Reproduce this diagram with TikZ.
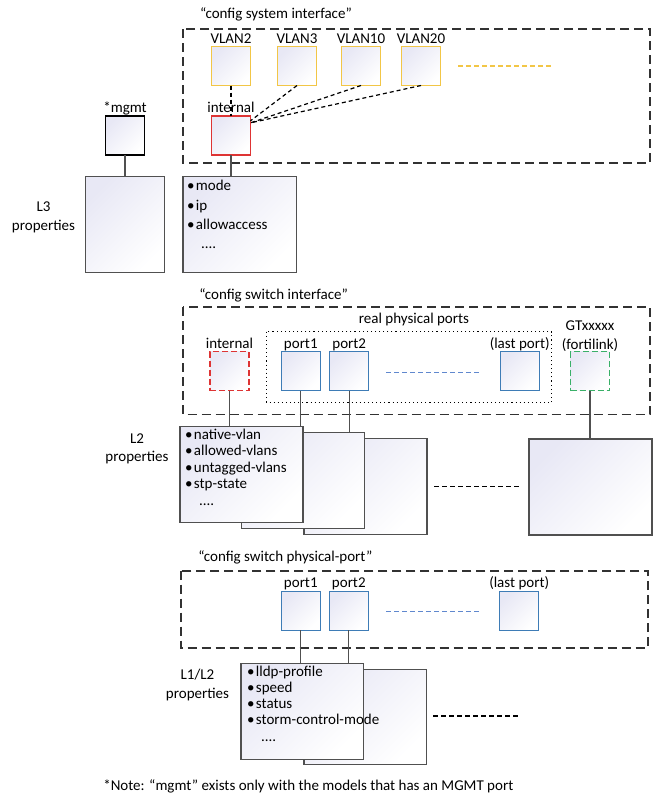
\documentclass[tikz,border=0pt]{standalone}
\usepackage{fontspec}
\setmainfont{Carlito}
\usetikzlibrary{positioning}

\definecolor{vlanyellow}{RGB}{242,198,70}
\definecolor{intred}{RGB}{222,52,52}
\definecolor{portblue}{RGB}{62,124,182}
\definecolor{dashblue}{RGB}{96,136,206}
\definecolor{gtgreen}{RGB}{58,176,104}
\definecolor{boxgray}{RGB}{80,80,80}
\definecolor{boxtint}{RGB}{232,232,245}
\definecolor{groupgray}{RGB}{50,50,50}
\newcommand{\blt}{\textbullet\hspace{1.5pt}}

\begin{document}
\begin{tikzpicture}[x=1pt, y=-1pt,
	every node/.style={font=\fontsize{15}{18}\selectfont, inner sep=0pt, outer sep=0pt},
	lbl/.style={text depth=0pt},
	lbltwo/.style={text depth=0pt, align=center, anchor=south, font=\fontsize{15}{18.5}\selectfont},
	plist/.style={text depth=0pt, align=left, anchor=south west},
	tint/.style={top color=boxtint, middle color=white, bottom color=white, shading angle=45},
	smallbox/.style={tint, line width=1.3pt, minimum width=39pt, minimum height=39pt},
	vlan/.style={smallbox, draw=vlanyellow},
	port/.style={smallbox, draw=portblue},
	intbox/.style={smallbox, draw=intred},
	propbox/.style={tint, draw=boxgray, line width=1.5pt, minimum width=123pt, minimum height=96pt},
	groupbox/.style={draw=groupgray, line width=1.8pt, dash pattern=on 9pt off 5pt},
	link/.style={draw=boxgray, line width=1.3pt},
	vlink/.style={draw=black, line width=1.2pt, dash pattern=on 4pt off 3pt},
	more/.style={line width=1.2pt, dash pattern=on 5pt off 3pt}]
	\useasboundingbox (0,0) rectangle (653,804);

	% config system interface
	\draw[groupbox] (183,29) rectangle (650,163);
	\node[lbl, anchor=south west] (sysiflbl) at (200,18.5) {“config system interface”};
	\node[vlan] (vlan2) at (231,66) {};
	\node[vlan] (vlan3) at (297,66) {};
	\node[vlan] (vlan10) at (361,66) {};
	\node[vlan] (vlan20) at (421,66) {};
	\node[lbl, above=3.5pt of vlan2] {VLAN2};
	\node[lbl, above=3.5pt of vlan3] {VLAN3};
	\node[lbl, above=3.5pt of vlan10] {VLAN10};
	\node[lbl, above=3.5pt of vlan20] {VLAN20};
	\coordinate (vmoreA) at (458,66);
	\coordinate (vmoreB) at (551,66);
	\draw[more, vlanyellow] (vmoreA) -- (vmoreB);
	\node[intbox] (sysint) at (231,135.5) {};
	\node[lbl, above=4pt of sysint] {internal};
	\draw[vlink] (vlan2) -- (sysint);
	\draw[vlink] (vlan3.south) -- (sysint.37);
	\draw[vlink] (vlan10.south) -- (sysint.33);
	\draw[vlink] (vlan20.south) -- (sysint.33);
	% mgmt and L3 properties
	\node[smallbox, draw=black] (mgmt) at (125,135.5) {};
	\node[lbl, above=4pt of mgmt] {*mgmt};
	\node[propbox, minimum width=79pt, minimum height=95.6pt] (l3mgmt) at (124.8,224.5) {};
	\node[propbox, minimum width=113.7pt, minimum height=95.6pt] (l3int) at (239.8,224.5) {};
	\draw[link] (mgmt.south) -- (mgmt.south |- l3mgmt.north);
	\draw[link] (sysint.south) -- (sysint.south |- l3int.north);
	\node[lbltwo] (l3lbl) at (43.5,230) {L3\\properties};
	\node[plist, font=\fontsize{15}{19.3}\selectfont] (l3list) at (187,248.7)
		{\blt mode\\\blt ip\\\blt allowaccess\\\hspace{14pt}....};

	% config switch interface
	\draw[groupbox] (182.7,307.3) rectangle (650,414.5);
	\node[lbl, anchor=south west] (swiflbl) at (199.3,299.3) {“config switch interface”};
	\draw[line width=1.1pt, dash pattern=on 1.1pt off 3pt] (266.7,331.7) rectangle (551.7,402.7);
	\node[lbl, anchor=south] (reallbl) at (414,323.3) {real physical ports};
	\node[smallbox, draw=intred, dash pattern=on 6pt off 3pt] (swint) at (229.5,371.2) {};
	\node[port] (swp1) at (300.8,371.2) {};
	\node[port] (swp2) at (349.2,371.2) {};
	\node[port] (swplast) at (519.7,371.2) {};
	\node[smallbox, draw=gtgreen, dash pattern=on 6pt off 3pt] (gt) at (590,371.2) {};
	\node[lbl, above=3.5pt of swint] {internal};
	\node[lbl, above=3.5pt of swp1] {port1};
	\node[lbl, above=3.5pt of swp2] {port2};
	\node[lbl, above=3.5pt of swplast] {(last port)};
	\node[lbl, align=center, above=2pt of gt, font=\fontsize{15}{19}\selectfont] {GTxxxxx\\(fortilink)};
	\coordinate (swmoreA) at (386,372.7);
	\coordinate (swmoreB) at (479.3,372.7);
	\draw[more, dashblue] (swmoreA) -- (swmoreB);
	% L2 properties
	\node[propbox] (l2c) at (365.3,486.7) {};
	\node[propbox] (l2b) at (303,480.7) {};
	\node[propbox] (l2a) at (241.5,474.7) {};
	\node[propbox] (l2gt) at (590.3,487) {};
	\draw[link] (swint.south) -- (swint.south |- l2a.north);
	\draw[link] (swp1.south) -- (swp1.south |- l2a.north);
	\draw[link] (swp2.south) -- (swp2.south |- l2b.north);
	\draw[link] (gt.south) -- (gt.south |- l2gt.north);
	\coordinate (l2moreA) at (434.3,486.7);
	\coordinate (l2moreB) at (519,486.7);
	\draw[more, black] (l2moreA) -- (l2moreB);
	\node[lbltwo] (l2lbl) at (137,461.7) {L2\\properties};
	\node[plist, font=\fontsize{15}{16.4}\selectfont] (l2list) at (185,505)
		{\blt native-vlan\\\blt allowed-vlans\\\blt untagged-vlans\\\blt stp-state\\\hspace{14pt}....};

	% config switch physical-port
	\draw[groupbox] (180.7,570.7) rectangle (648,647.7);
	\node[lbl, anchor=south west] (pplbl) at (198.3,561.7) {“config switch physical-port”};
	\node[port] (pp1) at (300.8,610.8) {};
	\node[port] (pp2) at (348.8,610.8) {};
	\node[port] (pplast) at (519.2,610.8) {};
	\node[lbl, above=4pt of pp1] {port1};
	\node[lbl, above=4pt of pp2] {port2};
	\node[lbl, above=4pt of pplast] {(last port)};
	\coordinate (ppmoreA) at (386,611.7);
	\coordinate (ppmoreB) at (479.3,611.7);
	\draw[more, dashblue] (ppmoreA) -- (ppmoreB);
	% L1/L2 properties
	\node[propbox, minimum width=122.7pt, minimum height=95pt] (l1b) at (365.3,716.8) {};
	\node[propbox, minimum width=122.3pt] (l1a) at (302.2,711.3) {};
	\draw[link] (pp1.south) -- (pp1.south |- l1a.north);
	\draw[link] (pp2.south) -- (pp2.south |- l1a.north);
	\coordinate (l1moreA) at (433.3,716);
	\coordinate (l1moreB) at (518.3,716);
	\draw[more, black] (l1moreA) -- (l1moreB);
	\node[lbltwo] (l1lbl) at (197.5,698.3) {L1/L2\\properties};
	\node[plist, font=\fontsize{15}{16.1}\selectfont] (l1list) at (247,741)
		{\blt lldp-profile\\\blt speed\\\blt status\\\blt storm-control-mode\\\hspace{14pt}....};

	% Note
	\node[lbl, anchor=south west] (note) at (103.3,790) {*Note: “mgmt” exists only with the models that has an MGMT port};
\end{tikzpicture}
\end{document}
